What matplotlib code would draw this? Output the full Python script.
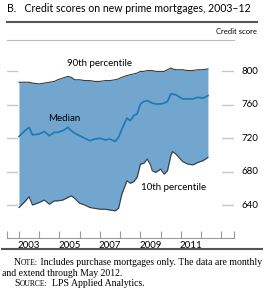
import matplotlib
matplotlib.use("Agg")
import matplotlib.pyplot as plt

# Datos (mes, percentil 90, mediana, percentil 10)
meses = ["2003-01", "2003-04", "2003-07", "2003-09", "2004-01", "2004-04",
         "2004-07", "2004-10", "2004-12", "2005-03", "2005-06", "2005-08",
         "2005-10", "2006-01", "2006-04", "2006-07", "2006-10", "2007-01",
         "2007-04", "2007-07", "2007-10", "2007-12", "2008-02", "2008-05",
         "2008-07", "2008-09", "2008-11", "2009-01", "2009-03", "2009-05",
         "2009-07", "2009-08", "2009-10", "2010-01", "2010-03", "2010-05",
         "2010-07", "2010-08", "2010-10", "2011-02", "2011-05", "2011-08",
         "2011-11", "2012-02", "2012-05"]
p90 = [787, 787, 787, 786, 785, 786, 787, 788, 790, 792, 794, 793,
       790, 790, 789, 789, 788, 788, 789, 789, 790, 791, 793, 795,
       796, 797, 798, 800, 800, 801, 801, 801, 800, 800, 800, 802,
       804, 803, 802, 802, 801, 801, 802, 802, 803]
mediana = [722, 728, 733, 724, 725, 728, 723, 727, 727, 729, 733, 729,
           726, 723, 720, 717, 719, 720, 718, 719, 716, 721, 731, 744,
           741, 747, 749, 761, 764, 765, 763, 762, 761, 761, 762, 764,
           773, 773, 772, 767, 767, 767, 769, 768, 771]
p10 = [637, 643, 650, 640, 643, 646, 641, 645, 645, 646, 649, 651,
       648, 642, 640, 637, 636, 635, 635, 634, 633, 636, 653, 669,
       666, 668, 673, 689, 690, 695, 688, 681, 679, 683, 677, 681,
       699, 704, 701, 692, 689, 688, 691, 693, 697]

anios = [2003, 2004, 2005, 2006, 2007, 2008, 2009, 2010, 2011, 2012, 2013]
etiquetas_anios = ["2003", "2005", "2007", "2009", "2011"]
valores_y = [640, 680, 720, 760, 800]

# Mes -> anio decimal
x = [int(m[:4]) + (int(m[5:]) - 1) / 12 for m in meses]

plt.rcParams['font.family'] = ['Lato', 'DejaVu Sans']

W, H = 267, 290
def fx(px):
    return px / W
def fy(py):
    return 1 - py / H

fig = plt.figure(figsize=(W / 100, H / 100), dpi=100)
ax = fig.add_axes([fx(7), fy(238), fx(234) - fx(7), fy(40) - fy(238)])

x0, x1 = 2002.41, 2013.62
ax.set_xlim(x0, x1)
ax.set_ylim(600.5, 837.6)

# Lineas de cuadricula cortas a los lados
for v in valores_y:
    ax.axhline(v, xmin=0, xmax=0.044, color="#c8c8c8", lw=1)
    ax.axhline(v, xmin=0.947, xmax=1.0, color="#c8c8c8", lw=1)
    ax.text(1.035, v, str(v), transform=ax.get_yaxis_transform(),
            ha="left", va="center", fontsize=7)

ax.fill_between(x, p10, p90, color="#72a6cf", lw=0)
ax.plot(x, p90, color="#3a3a3a", lw=0.8)
ax.plot(x, p10, color="#3a3a3a", lw=0.8)
ax.plot(x, mediana, color="#1b79b4", lw=1.2)

ax.text(2006.96, 809, "90th percentile", ha="center", va="center", fontsize=7)
ax.text(2005.23, 743, "Median", ha="center", va="center", fontsize=7)
ax.text(2010.63, 661, "10th percentile", ha="center", va="center", fontsize=7)

for s in ["left", "right"]:
    ax.spines[s].set_visible(False)
ax.spines["top"].set_color("#bdbdbd")
ax.spines["top"].set_linewidth(0.8)
ax.spines["bottom"].set_color("#9a9a9a")
ax.spines["bottom"].set_linewidth(0.8)

ax.set_xticks(anios + [x0, x1])
ax.set_xticklabels([])
ax.tick_params(axis="x", which="major", direction="in", length=5,
               color="#9a9a9a", width=0.8)
ax.set_xticks([int(a) + 0.5 for a in etiquetas_anios], minor=True)
ax.set_xticklabels(etiquetas_anios, minor=True, fontsize=7)
ax.tick_params(axis="x", which="minor", length=0, pad=2)
ax.set_yticks([])

# Titulo y reglas
fig.text(fx(7), fy(8), "B.   Credit scores on new prime mortgages, 2003\u201312",
         ha="left", va="center", fontsize=7.6)
fig.add_artist(plt.Line2D([fx(7), fx(257)], [fy(22), fy(22)], color="#555555", lw=1.5))
fig.text(fx(257), fy(32), "Credit score", ha="right", va="center", fontsize=5.5)
fig.add_artist(plt.Line2D([fx(2), fx(262)], [fy(249), fy(249)], color="#555555", lw=1.5))

# Notas con versalitas
serif = "Liberation Serif"
tam = 7.0
tam_vers = 5.5
def versalitas(xp, yp, palabra, resto):
    t = fig.text(fx(xp), fy(yp), palabra[0], ha="left", va="bottom",
                 fontsize=tam, family=serif)
    a = fig.text(0, 0, palabra[1:].upper(), fontsize=tam_vers, family=serif)
    a.remove()
    a = ax.annotate(palabra[1:].upper(), xy=(1, 0), xycoords=t, fontsize=tam_vers,
                    family=serif, ha="left", va="bottom", annotation_clip=False)
    ax.annotate(resto, xy=(1, 0), xycoords=a, fontsize=tam, family=serif,
                ha="left", va="bottom", annotation_clip=False)

versalitas(14, 267, "Note:", " Includes purchase mortgages only. The data are monthly")
fig.text(fx(2), fy(278), "and extend through May 2012.", ha="left", va="bottom",
         fontsize=tam, family=serif)
versalitas(14, 288, "Source:", "  LPS Applied Analytics.")

fig.savefig("out.png", dpi=100)
